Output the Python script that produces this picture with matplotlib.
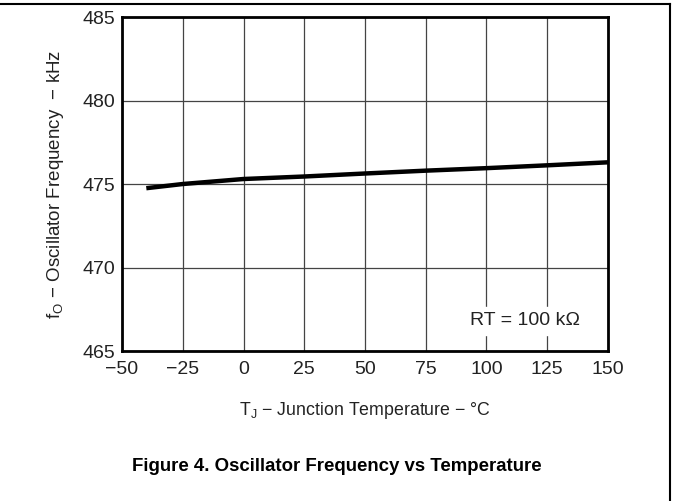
import matplotlib.pyplot as plt
from matplotlib.lines import Line2D

plt.rcParams['font.family'] = ['Liberation Sans', 'DejaVu Sans']

temp = [-40, -25, 0, 25, 50, 75, 100, 125, 150]
freq = [474.75, 475.0, 475.3, 475.45, 475.63, 475.8, 475.95, 476.12, 476.3]
xticks = [-50, -25, 0, 25, 50, 75, 100, 125, 150]
yticks = [465, 470, 475, 480, 485]

fig = plt.figure(figsize=(6.73, 5.01), dpi=100)
ax = fig.add_axes([0.1813, 0.2994, 0.7221, 0.6666])

ax.plot(temp, freq, color='black', lw=3.2, solid_capstyle='butt')
ax.set_xlim(-50, 150)
ax.set_ylim(465, 485)
ax.set_xticks(xticks)
ax.set_yticks(yticks)
ax.set_xticklabels([str(t).replace('-', '\u2212') for t in xticks])
ax.grid(True, color='#444444', lw=0.9)
ax.tick_params(length=0, labelsize=14, colors='#222222')
ax.tick_params(axis='x', pad=7)
ax.tick_params(axis='y', pad=5)
for s in ax.spines.values():
    s.set_linewidth(2)

ax.text(0.943, 0.09, 'RT = 100 k\u03a9', transform=ax.transAxes, ha='right', va='center',
        fontsize=14, color='#222222', backgroundcolor='white')

ax.set_xlabel('T$_\\mathregular{J}$ \u2212 Junction Temperature \u2212 \u00b0C', fontsize=12.8, color='#222222', labelpad=16)
ax.set_ylabel('f$_\\mathregular{O}$ \u2212 Oscillator Frequency  \u2212 kHz', fontsize=13.5, color='#222222', labelpad=12)

fig.text(0.5, 0.068, 'Figure 4. Oscillator Frequency vs Temperature', ha='center', va='center',
         fontsize=13.4, fontweight='bold')

# frame around the figure
fig.add_artist(Line2D([0, 0.996], [0.992, 0.992], transform=fig.transFigure, color='black', lw=1.5))
fig.add_artist(Line2D([0.996, 0.996], [0, 0.992], transform=fig.transFigure, color='black', lw=1.5))

fig.savefig('out.png', dpi=100)
